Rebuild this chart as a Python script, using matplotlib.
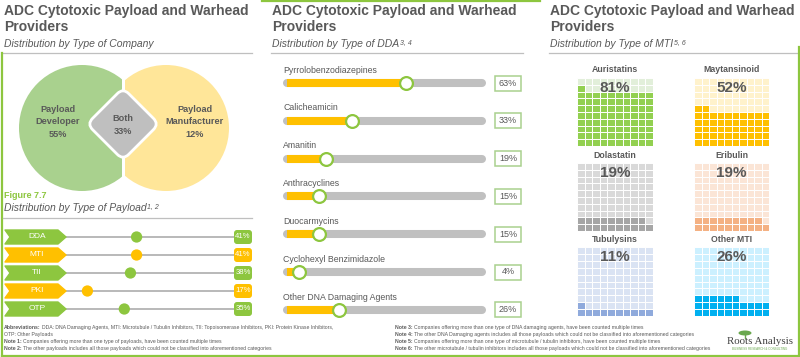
import matplotlib
matplotlib.use("Agg")
import matplotlib.pyplot as plt
import numpy as np
from matplotlib.patches import Circle, Rectangle, Polygon, FancyBboxPatch, Ellipse
from matplotlib.transforms import Affine2D

plt.rcParams['font.family'] = ['Liberation Sans', 'DejaVu Sans']

# --- données ---
company_types = ['Payload\nDeveloper', 'Both', 'Payload\nManufacturer']
company_share = [55, 33, 12]

payload_types = ['DDA', 'MTI', 'TII', 'PKI', 'OTP']
payload_share = [41, 41, 38, 17, 35]

dda_types = ['Pyrrolobenzodiazepines', 'Calicheamicin', 'Amanitin', 'Anthracyclines',
             'Duocarmycins', 'Cyclohexyl Benzimidazole', 'Other DNA Damaging Agents']
dda_share = [63, 33, 19, 15, 15, 4, 26]

mti_types = ['Auristatins', 'Maytansinoid', 'Dolastatin', 'Eribulin', 'Tubulysins', 'Other MTI']
mti_share = [81, 52, 19, 19, 11, 26]

GREEN = '#8dc63f'
YELLOW = '#ffc000'
TXT = '#595959'
RULE = '#bfbfbf'
row_cols = [GREEN, YELLOW, GREEN, YELLOW, GREEN]
waffle_cols = [('#92d050', '#e2efda'), ('#ffc000', '#fff2cc'), ('#a6a6a6', '#d9d9d9'),
               ('#f4b183', '#fbe5d6'), ('#8faadc', '#dae3f3'), ('#00b0f0', '#ccf0ff')]

W, H = 800, 357
fig = plt.figure(figsize=(8, 3.57), dpi=100)

# toile en pixels pour le décor
cv = fig.add_axes([0, 0, 1, 1])
cv.set_xlim(0, W)
cv.set_ylim(H, 0)
cv.axis('off')


def px_axes(x0, y0, x1, y1):
    a = fig.add_axes([x0 / W, 1 - y1 / H, (x1 - x0) / W, (y1 - y0) / H])
    a.patch.set_alpha(0)
    return a


def sup_after(t, s, size=5):
    cv.annotate(s, xy=(1, 1), xycoords=t, xytext=(0.5, 0), textcoords='offset points',
                ha='left', va='top', fontsize=size, color=TXT, style='italic')


def header(x, x_end, sub, sup=None):
    cv.text(x, 4, 'ADC Cytotoxic Payload and Warhead\nProviders', fontsize=10,
            weight='bold', color=TXT, va='top', ha='left', linespacing=1.15, clip_on=True)
    t = cv.text(x, 44, sub, fontsize=7.5, style='italic', color=TXT, va='center', ha='left')
    if sup:
        sup_after(t, sup)
    cv.plot([x - 1, x_end], [53, 53], color=RULE, lw=0.9)


header(4, 252, 'Distribution by Type of Company')
header(272, 523, 'Distribution by Type of DDA', '3, 4')
header(550, 800, 'Distribution by Type of MTI', '5, 6')

# bordures vertes
cv.plot([1.5, 1.5], [53, 355.5], color=GREEN, lw=1.6)
cv.plot([1.5, 798.5], [355.5, 355.5], color=GREEN, lw=1.6)
cv.plot([798.5, 798.5], [47, 355.5], color=GREEN, lw=1.6)
cv.plot([262, 540], [0.8, 0.8], color=GREEN, lw=1.6)

# === Venn : type d'entreprise ===
gc = Circle((82, 128), 63, color='#a9d18e', lw=0)
cv.add_patch(gc)
gc.set_clip_path(Rectangle((0, 0), 122, H, transform=cv.transData))
yc = Circle((166, 128), 63, color='#ffe699', lw=0)
cv.add_patch(yc)
yc.set_clip_path(Rectangle((124.5, 0), 200, H, transform=cv.transData))
side = 51
dm = FancyBboxPatch((123 - side / 2, 124 - side / 2), side, side,
                    boxstyle='round,pad=0,rounding_size=8', fc='#bfbfbf', ec='white', lw=2)
dm.set_transform(Affine2D().rotate_deg_around(123, 124, 45) + cv.transData)
cv.add_patch(dm)
venn_pos = [(58, 122), (123, 125), (195, 122)]
for (vx, vy), name, v in zip(venn_pos, company_types, company_share):
    cv.text(vx, vy, f'{name}\n{v}%', ha='center', va='center', fontsize=6.6,
            weight='bold', color=TXT, linespacing=1.55)

# === Dumbbell : type de payload ===
cv.text(4, 195, 'Figure 7.7', fontsize=6.5, weight='bold', color=GREEN, va='center')
t = cv.text(4, 208, 'Distribution by Type of Payload', fontsize=7.5, style='italic',
            color=TXT, va='center')
sup_after(t, '1, 2')
cv.plot([3, 252], [218, 218], color=RULE, lw=0.9)

ax_p = px_axes(5, 228, 252, 318)
ax_p.set_xlim(-23.2, 97.3)
ax_p.set_ylim(len(payload_types) - 0.5, -0.5)
ax_p.axis('off')
for i, (name, v, c) in enumerate(zip(payload_types, payload_share, row_cols)):
    yy = 237 + i * 18
    cv.plot([66, 234], [yy, yy], color='#a6a6a6', lw=1.1, zorder=1)
    cv.add_patch(Polygon([(5, yy - 7), (58, yy - 7), (66, yy), (58, yy + 7),
                          (5, yy + 7), (10, yy)], closed=True, fc=c, ec=c, lw=1,
                         joinstyle='round', zorder=2))
    cv.text(37, yy, name, color='white', fontsize=6, ha='center', va='center', zorder=3)
    cv.add_patch(FancyBboxPatch((234, yy - 7), 18, 14, boxstyle='round,pad=0,rounding_size=3',
                                fc=c, ec='none', zorder=2))
    cv.text(243, yy, f'{v}%', color='white', fontsize=5.6, ha='center', va='center', zorder=3)
ax_p.scatter(payload_share, range(len(payload_share)), s=66, c=row_cols, zorder=4, lw=0)

# === barres : type de DDA ===
XL = (-4.9, 107.3)
ax_d = px_axes(283, 64, 486, 329)
ax_d.set_xlim(*XL)
ax_d.set_ylim(len(dda_types) - 0.5, -0.5)
ax_d.axis('off')
for i, (name, v) in enumerate(zip(dda_types, dda_share)):
    ax_d.plot([XL[0] + 2.3, XL[1] - 2.3], [i, i], color='#c0c0c0', lw=5.8,
              solid_capstyle='round', zorder=1)
    ax_d.plot([XL[0] + 2.3, v], [i, i], color=YELLOW, lw=5.8, solid_capstyle='butt', zorder=2)
    ax_d.plot([XL[0] + 2.3, XL[0] + 2.4], [i, i], color=YELLOW, lw=5.8,
              solid_capstyle='round', zorder=2)
    ax_d.annotate(name, (XL[0], i), xytext=(0, 9.3), textcoords='offset points',
                  ha='left', va='center', fontsize=6.3, color=TXT)
    yy = 83 + i * 37.8
    cv.add_patch(Rectangle((495, yy - 7.5), 26, 15, fc='white', ec='#a9d18e', lw=1.1))
    cv.text(508, yy, f'{v}%', fontsize=6.5, color=TXT, ha='center', va='center')
ax_d.scatter(dda_share, range(len(dda_share)), s=85, c='white', edgecolors=GREEN,
             linewidths=1.6, zorder=3)

# === waffles : type de MTI ===
cols_x = [(577, 653), (694, 769)]
rows_y = [(78, 146), (163, 231), (247, 316)]
cell_col = np.tile(np.arange(10), 10)
cell_row = np.repeat(np.arange(10), 10)  # rangée 0 = bas
for k, (name, v) in enumerate(zip(mti_types, mti_share)):
    x0, x1 = cols_x[k % 2]
    y0, y1 = rows_y[k // 2]
    ax_w = px_axes(x0, y0, x1, y1)
    fill, empty = waffle_cols[k]
    colors = np.where(cell_row * 10 + cell_col < v, fill, empty)
    ax_w.bar(cell_col, 1, bottom=cell_row, width=1, align='edge', color=colors,
             edgecolor='white', linewidth=0.7)
    ax_w.set_xlim(0, 10)
    ax_w.set_ylim(0, 10)
    ax_w.axis('off')
    ax_w.text(0.5, 0.85, f'{v}%', transform=ax_w.transAxes, ha='center', va='center',
              fontsize=11, weight='bold', color=TXT)
    cv.text((x0 + x1) / 2, y0 - 8, name, ha='center', va='center', fontsize=6.3,
            weight='bold', color=TXT)

# === notes ===
renderer = fig.canvas.get_renderer()


def note(x, y, bold, rest):
    t = cv.text(x, y, bold, fontsize=3.7, weight='bold', color=TXT, va='baseline', ha='left')
    bb = t.get_window_extent(renderer=renderer)
    x_end = cv.transData.inverted().transform((bb.x1, bb.y0))[0]
    cv.text(x_end + 1.2, y, rest, fontsize=3.7, color=TXT, va='baseline', ha='left')


note(4, 329, 'Abbreviations:', 'DDA: DNA Damaging Agents, MTI: Microtubule / Tubulin Inhibitors, '
     'TII: Topoisomerase Inhibitors, PKI: Protein Kinase Inhibitors,')
cv.text(4, 336, 'OTP: Other Payloads', fontsize=3.7, color=TXT, va='baseline')
note(4, 343, 'Note 1:', 'Companies offering more than one type of payloads, have been counted multiple times')
note(4, 350, 'Note 2:', 'The other payloads includes all those payloads which could not be '
     'classified into aforementioned categories')
note(395, 329, 'Note 3:', 'Companies offering more than one type of DNA damaging agents, '
     'have been counted multiple times')
note(395, 336, 'Note 4:', 'The other DNA Damaging agents includes all those payloads which '
     'could not be classified into aforementioned categories')
note(395, 343, 'Note 5:', 'Companies offering more than one type of microtubule / tubulin '
     'inhibitors, have been counted multiple times')
note(395, 350, 'Note 6:', 'The other microtubule / tubulin inhibitors includes all those payloads '
     'which could not be classified into aforementioned categories')

# logo
cv.add_patch(Ellipse((745, 333), 13, 5, color='#6aa84f', lw=0))
cv.plot([745, 745], [334, 338], color='#6aa84f', lw=1)
cv.text(760, 342, 'Roots Analysis', family=['Liberation Serif', 'DejaVu Serif'],
        fontsize=7.8, color='#404040', ha='center', va='center')
cv.text(760, 349, 'BUSINESS RESEARCH & CONSULTING', fontsize=2.2, color='#6aa84f',
        ha='center', va='center')

fig.savefig('out.png', dpi=100)
